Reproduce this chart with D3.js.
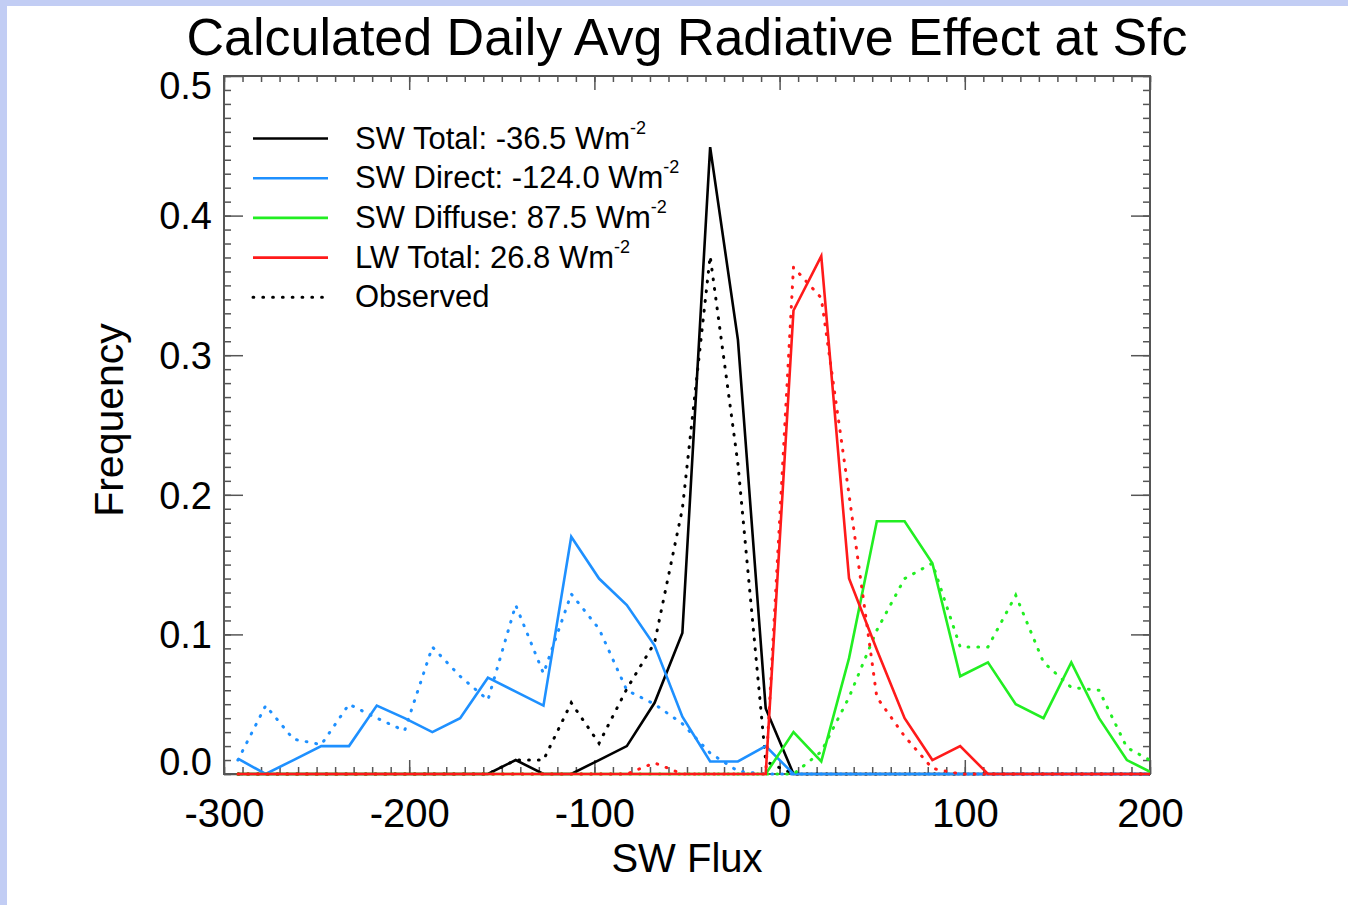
<!DOCTYPE html>
<html>
<head>
<meta charset="utf-8">
<script src="https://cdn.jsdelivr.net/npm/d3@7"></script>
<style>
  html, body { margin: 0; padding: 0; background: #ffffff; }
  svg { display: block; font-family: "Liberation Sans", Arial, Helvetica, sans-serif; }
</style>
</head>
<body>
<div id="chart"></div>
<script>
// bin centres of the flux histograms (W m-2)
const bins = [-292.5, -277.5, -262.5, -247.5, -232.5, -217.5, -202.5, -187.5, -172.5, -157.5,
  -142.5, -127.5, -112.5, -97.5, -82.5, -67.5, -52.5, -37.5, -22.5, -7.5,
  7.5, 22.5, 37.5, 52.5, 67.5, 82.5, 97.5, 112.5, 127.5, 142.5,
  157.5, 172.5, 187.5, 202.5];

const swTotal = [0, 0, 0, 0, 0, 0, 0, 0, 0, 0,
  0.010, 0, 0, 0.010, 0.020, 0.051, 0.101, 0.449, 0.311, 0.047,
  0, 0, 0, 0, 0, 0, 0, 0, 0, 0,
  0, 0, 0, 0];
const swTotalObs = [0, 0, 0, 0, 0, 0, 0, 0, 0, 0,
  0.010, 0.010, 0.051, 0.022, 0.061, 0.094, 0.190, 0.371, 0.222, 0.009,
  0, 0, 0, 0, 0, 0, 0, 0, 0, 0,
  0, 0, 0, 0];

const swDirect = [0.011, 0, 0.010, 0.020, 0.020, 0.049, 0.040, 0.030, 0.040, 0.069,
  0.059, 0.049, 0.170, 0.140, 0.121, 0.092, 0.041, 0.009, 0.009, 0.020,
  0, 0, 0, 0, 0, 0, 0, 0, 0, 0,
  0, 0, 0, 0];
const swDirectObs = [0.010, 0.049, 0.025, 0.021, 0.050, 0.040, 0.031, 0.091, 0.070, 0.053,
  0.121, 0.072, 0.129, 0.104, 0.060, 0.050, 0.036, 0.015, 0.002, 0,
  0, 0, 0, 0, 0, 0, 0, 0, 0, 0,
  0, 0, 0, 0];

const swDiffuse = [0, 0, 0, 0, 0, 0, 0, 0, 0, 0,
  0, 0, 0, 0, 0, 0, 0, 0, 0, 0,
  0.030, 0.009, 0.083, 0.181, 0.181, 0.151, 0.070, 0.080, 0.050, 0.040,
  0.080, 0.040, 0.010, 0];
const swDiffuseObs = [0, 0, 0, 0, 0, 0, 0, 0, 0, 0,
  0, 0, 0, 0, 0, 0, 0, 0, 0, 0,
  0, 0.016, 0.055, 0.103, 0.140, 0.151, 0.091, 0.091, 0.128, 0.080,
  0.062, 0.060, 0.019, 0.008];

const lwTotal = [0, 0, 0, 0, 0, 0, 0, 0, 0, 0,
  0, 0, 0, 0, 0, 0, 0, 0, 0, 0,
  0.332, 0.371, 0.140, 0.089, 0.040, 0.010, 0.020, 0, 0, 0,
  0, 0, 0, 0];
const lwTotalObs = [0, 0, 0, 0, 0, 0, 0, 0, 0, 0,
  0, 0, 0, 0, 0, 0.008, 0, 0, 0, 0,
  0.363, 0.341, 0.200, 0.055, 0.027, 0.004, 0, 0, 0, 0,
  0, 0, 0, 0];

const legendLabels = ["SW Total: -36.5 Wm", "SW Direct: -124.0 Wm", "SW Diffuse: 87.5 Wm", "LW Total: 26.8 Wm", "Observed"];
const xTicks = [-300, -200, -100, 0, 100, 200];
const yTicks = [0, 0.1, 0.2, 0.3, 0.4, 0.5];

const W = 1348, H = 905;
const colBlack = "#000000", colBlue = "#1e90ff", colGreen = "#22ee22", colRed = "#ff1a1a";

const svg = d3.select("#chart").append("svg")
  .attr("width", W)
  .attr("height", H);

// page frame strips (top and left)
svg.append("rect").attr("x", 0).attr("y", 0).attr("width", W).attr("height", 6).attr("fill", "#c2cdf4");
svg.append("rect").attr("x", 0).attr("y", 0).attr("width", 7).attr("height", H).attr("fill", "#c2cdf4");

const x = d3.scaleLinear().domain([-300, 200]).range([224, 1150]);
const y = d3.scaleLinear().domain([0, 0.5]).range([774, 76]);

svg.append("defs").append("clipPath").attr("id", "plotclip")
  .append("rect")
  .attr("x", x(-300)).attr("y", y(0.5) - 3)
  .attr("width", x(200) - x(-300)).attr("height", y(0) - y(0.5) + 6);

// axes with inward ticks
const axisCol = "#555555";
function styleAxis(g) {
  g.select(".domain").remove();
  g.selectAll("line").attr("stroke", axisCol).attr("stroke-width", 1.5);
}
svg.append("g").attr("transform", `translate(0,${y(0)})`)
  .call(d3.axisBottom(x).tickValues(d3.range(-300, 201, 10)).tickSize(-7).tickFormat(""))
  .call(styleAxis);
const xAxis = svg.append("g").attr("transform", `translate(0,${y(0)})`)
  .call(d3.axisBottom(x).tickValues(xTicks).tickSize(-14).tickFormat(d => String(d)))
  .call(styleAxis);
xAxis.selectAll("text")
  .attr("y", 53).attr("dy", 0)
  .attr("font-size", 40).attr("fill", "#000")
  .attr("font-family", "Liberation Sans, Arial, sans-serif");

svg.append("g").attr("transform", `translate(0,${y(0.5)})`)
  .call(d3.axisTop(x).tickValues(d3.range(-300, 201, 10)).tickSize(-6).tickFormat(""))
  .call(styleAxis);
svg.append("g").attr("transform", `translate(0,${y(0.5)})`)
  .call(d3.axisTop(x).tickValues(xTicks).tickSize(-14).tickFormat(""))
  .call(styleAxis);

svg.append("g").attr("transform", `translate(${x(-300)},0)`)
  .call(d3.axisLeft(y).tickValues(d3.range(0, 51).map(d => d / 100)).tickSize(-7).tickFormat(""))
  .call(styleAxis);
const yAxis = svg.append("g").attr("transform", `translate(${x(-300)},0)`)
  .call(d3.axisLeft(y).tickValues(yTicks).tickSize(-19).tickFormat(d => d.toFixed(1)))
  .call(styleAxis);
yAxis.selectAll("text")
  .attr("x", -12)
  .attr("dy", d => d === 0 ? "0em" : d === 0.5 ? "0.6em" : "0.35em")
  .attr("font-size", 38).attr("fill", "#000")
  .attr("font-family", "Liberation Sans, Arial, sans-serif");

svg.append("g").attr("transform", `translate(${x(200)},0)`)
  .call(d3.axisRight(y).tickValues(d3.range(0, 51).map(d => d / 100)).tickSize(-7).tickFormat(""))
  .call(styleAxis);
svg.append("g").attr("transform", `translate(${x(200)},0)`)
  .call(d3.axisRight(y).tickValues(yTicks).tickSize(-19).tickFormat(""))
  .call(styleAxis);

// plot frame
svg.append("rect")
  .attr("x", x(-300)).attr("y", y(0.5))
  .attr("width", x(200) - x(-300)).attr("height", y(0) - y(0.5))
  .attr("fill", "none").attr("stroke", axisCol).attr("stroke-width", 2);

// series
const series = [
  { vals: swTotal, color: colBlack, dotted: false },
  { vals: swTotalObs, color: colBlack, dotted: true },
  { vals: swDirect, color: colBlue, dotted: false },
  { vals: swDirectObs, color: colBlue, dotted: true },
  { vals: swDiffuse, color: colGreen, dotted: false },
  { vals: swDiffuseObs, color: colGreen, dotted: true },
  { vals: lwTotal, color: colRed, dotted: false },
  { vals: lwTotalObs, color: colRed, dotted: true }
];

const line = d3.line()
  .x((d, i) => x(bins[i]))
  .y(d => y(d));

svg.append("g").attr("clip-path", "url(#plotclip)")
  .selectAll("path")
  .data(series)
  .enter()
  .append("path")
  .attr("d", d => line(d.vals))
  .attr("fill", "none")
  .attr("stroke", d => d.color)
  .attr("stroke-width", d => d.dotted ? 3 : 2.6)
  .attr("stroke-linejoin", "miter")
  .attr("stroke-linecap", d => d.dotted ? "round" : "butt")
  .attr("stroke-dasharray", d => d.dotted ? "0.8,9" : null);

// legend
const legendColors = [colBlack, colBlue, colGreen, colRed, colBlack];
const legend = svg.append("g");
legendLabels.forEach((lab, i) => {
  const ly = 138.5 + i * 39.7;
  legend.append("line")
    .attr("x1", 253).attr("x2", 328)
    .attr("y1", ly).attr("y2", ly)
    .attr("stroke", legendColors[i])
    .attr("stroke-width", i === 4 ? 3 : 2.6)
    .attr("stroke-linecap", i === 4 ? "round" : "butt")
    .attr("stroke-dasharray", i === 4 ? "0.8,9" : null);
  const t = legend.append("text")
    .attr("x", 355).attr("y", ly + 10)
    .attr("font-size", 31)
    .attr("fill", "#000")
    .text(lab);
  if (i < 4) {
    t.append("tspan")
      .attr("dy", -15)
      .attr("font-size", 18)
      .text("-2");
  }
});

// titles
svg.append("text")
  .attr("x", 687).attr("y", 55)
  .attr("text-anchor", "middle")
  .attr("font-size", 52)
  .attr("fill", "#000")
  .text("Calculated Daily Avg Radiative Effect at Sfc");

svg.append("text")
  .attr("x", 687).attr("y", 872)
  .attr("text-anchor", "middle")
  .attr("font-size", 40)
  .attr("fill", "#000")
  .text("SW Flux");

svg.append("text")
  .attr("transform", "translate(123,420) rotate(-90)")
  .attr("text-anchor", "middle")
  .attr("font-size", 41)
  .attr("fill", "#000")
  .text("Frequency");
</script>
</body>
</html>
